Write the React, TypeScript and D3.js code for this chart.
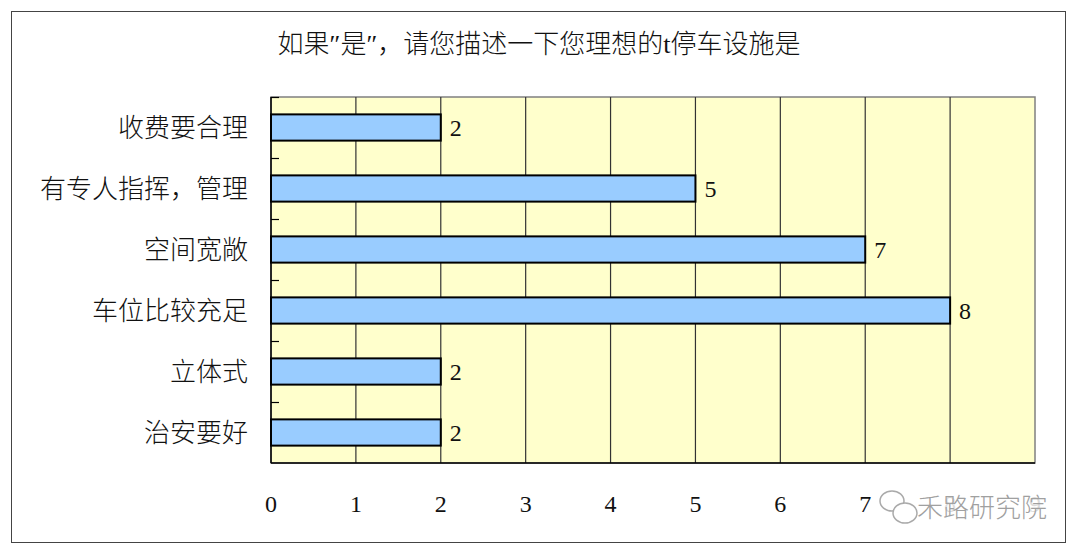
import { useEffect, useRef } from 'react';
import * as d3 from 'd3';

const categories = ["收费要合理", "有专人指挥，管理", "空间宽敞", "车位比较充足", "立体式", "治安要好"];
const values = [2, 5, 7, 8, 2, 2];
const xTicks = [0, 1, 2, 3, 4, 5, 6, 7, 8, 9];
const title = "如果″是″，请您描述一下您理想的t停车设施是";
const watermark = "禾路研究院";

const FONT = "'Liberation Serif', 'Noto Sans CJK SC', serif";

export default function App() {
  const svgRef = useRef<SVGSVGElement>(null);

  useEffect(() => {
    if (!svgRef.current) return;
    const plot = { left: 271, right: 1035, top: 97, bottom: 463 };

    const svg = d3.select(svgRef.current);
    svg.selectAll("*").remove();

    // outer frame
    svg.append("rect")
      .attr("x", 11.5).attr("y", 11.5)
      .attr("width", 1054).attr("height", 531)
      .attr("fill", "#fff")
      .attr("stroke", "#444")
      .attr("stroke-width", 1);

    svg.append("text")
      .attr("x", 539).attr("y", 44)
      .attr("dy", "0.36em")
      .attr("text-anchor", "middle")
      .attr("font-family", FONT)
      .attr("font-size", "26px")
      .attr("font-weight", 300)
      .attr("fill", "#111")
      .text(title);

    const x = d3.scaleLinear().domain([0, 9]).range([plot.left, plot.right]);
    const y = d3.scaleBand<string>().domain(categories).range([plot.top, plot.bottom]).padding(0);
    const barH = y.bandwidth() * 0.43;

    // plot background
    svg.append("rect")
      .attr("x", plot.left).attr("y", plot.top)
      .attr("width", plot.right - plot.left).attr("height", plot.bottom - plot.top)
      .attr("fill", "#ffffcc")
      .attr("stroke", "#808080")
      .attr("stroke-width", 1.5);

    // vertical grid
    svg.append("g")
      .selectAll("line")
      .data(xTicks.slice(1, -1))
      .enter()
      .append("line")
      .attr("x1", d => x(d)).attr("x2", d => x(d))
      .attr("y1", plot.top).attr("y2", plot.bottom)
      .attr("stroke", "#333")
      .attr("stroke-width", 1.2);

    // left and bottom axes
    svg.append("line")
      .attr("x1", plot.left).attr("x2", plot.left)
      .attr("y1", plot.top).attr("y2", plot.bottom)
      .attr("stroke", "#000").attr("stroke-width", 1.5);
    svg.append("line")
      .attr("x1", plot.left).attr("x2", plot.right)
      .attr("y1", plot.bottom).attr("y2", plot.bottom)
      .attr("stroke", "#000").attr("stroke-width", 1.5);

    // inner ticks at category boundaries
    svg.append("g")
      .selectAll("line")
      .data(categories)
      .enter()
      .append("line")
      .attr("x1", plot.left).attr("x2", plot.left + 8)
      .attr("y1", d => (y(d) as number) + 0.5)
      .attr("y2", d => (y(d) as number) + 0.5)
      .attr("stroke", "#000").attr("stroke-width", 1.2);

    // bars
    svg.append("g")
      .selectAll("rect")
      .data(values)
      .enter()
      .append("rect")
      .attr("x", x(0))
      .attr("y", (d, i) => (y(categories[i]) as number) + (y.bandwidth() - barH) / 2)
      .attr("width", d => x(d) - x(0))
      .attr("height", barH)
      .attr("fill", "#99ccff")
      .attr("stroke", "#000")
      .attr("stroke-width", 2);

    // value labels
    svg.append("g")
      .selectAll("text")
      .data(values)
      .enter()
      .append("text")
      .attr("x", d => x(d) + 9)
      .attr("y", (d, i) => (y(categories[i]) as number) + y.bandwidth() / 2)
      .attr("dy", "0.36em")
      .attr("font-family", FONT)
      .attr("font-size", "24px")
      .attr("fill", "#111")
      .text(d => d);

    // category labels
    svg.append("g")
      .selectAll("text")
      .data(categories)
      .enter()
      .append("text")
      .attr("x", 248)
      .attr("y", d => (y(d) as number) + y.bandwidth() / 2)
      .attr("dy", "0.36em")
      .attr("text-anchor", "end")
      .attr("font-family", FONT)
      .attr("font-size", "26px")
      .attr("font-weight", 300)
      .attr("fill", "#111")
      .text(d => d);

    // x tick labels
    svg.append("g")
      .selectAll("text")
      .data(xTicks)
      .enter()
      .append("text")
      .attr("x", d => x(d))
      .attr("y", 503)
      .attr("dy", "0.36em")
      .attr("text-anchor", "middle")
      .attr("font-family", FONT)
      .attr("font-size", "24px")
      .attr("fill", "#111")
      .text(d => d);

    // watermark over the right tick labels
    const wm = svg.append("g");
    wm.append("rect")
      .attr("x", 872).attr("y", 484)
      .attr("width", 180).attr("height", 44)
      .attr("fill", "#fff").attr("opacity", 0.85);
    wm.append("ellipse")
      .attr("cx", 892).attr("cy", 501).attr("rx", 12).attr("ry", 10)
      .attr("fill", "none").attr("stroke", "#aaa").attr("stroke-width", 1.5);
    wm.append("ellipse")
      .attr("cx", 905).attr("cy", 513).attr("rx", 12).attr("ry", 10)
      .attr("fill", "#fff").attr("stroke", "#aaa").attr("stroke-width", 1.5);
    wm.append("text")
      .attr("x", 917).attr("y", 508)
      .attr("dy", "0.36em")
      .attr("font-family", "'Noto Sans CJK SC', sans-serif")
      .attr("font-size", "26px")
      .attr("font-weight", 300)
      .attr("fill", "#a0a0a0")
      .text(watermark);
  }, []);

  return (
    <svg ref={svgRef} width={1080} height={555} viewBox="0 0 1080 555"
      style={{ position: 'absolute', left: 0, top: 0, display: 'block' }}></svg>
  );
}
